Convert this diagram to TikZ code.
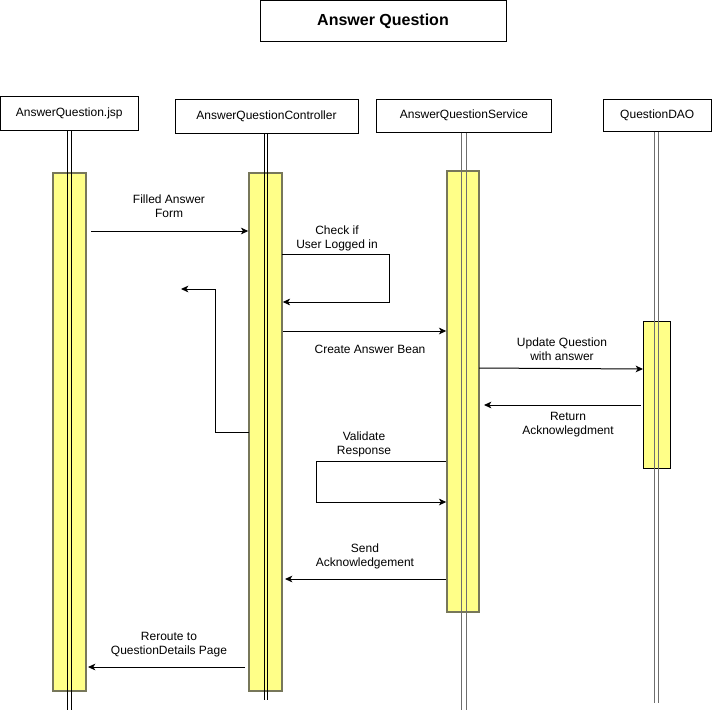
\documentclass[tikz,border=0pt]{standalone}
\usepackage{fontspec}
\setmainfont{Liberation Sans}
\usetikzlibrary{arrows.meta}
\definecolor{baryel}{HTML}{FFFF88}
\definecolor{barline}{HTML}{77775A}
\definecolor{lgray}{HTML}{6E6E6E}
\begin{document}
\begin{tikzpicture}[x=0.75pt,y=-0.75pt,
  txt/.style={font=\fontsize{9}{10.5}\selectfont, align=center, inner sep=0pt},
  head/.style={draw, line width=0.75pt, fill=white, inner sep=0pt, font=\fontsize{9}{10.5}\selectfont},
  titlebox/.style={draw, line width=0.75pt, fill=white, inner sep=0pt, font=\fontsize{12}{14}\selectfont\bfseries},
  bar/.style={draw=barline, fill=baryel, line width=1.1pt, inner sep=0pt},
  life/.style={line width=0.7pt},
  msg/.style={draw=black, line width=0.75pt, -{Stealth[length=5.5pt,width=5pt,inset=1.5pt]}}
]
\useasboundingbox (0,0) rectangle (712,710);
% title
\node[titlebox, minimum width=246*0.75pt, minimum height=41.5*0.75pt] (title) at (383,21.25) {\raisebox{-1pt}{Answer Question}};
% headers
\node[head, minimum width=137.5*0.75pt, minimum height=34*0.75pt] (jsp) at (69.25,113) {AnswerQuestion.jsp};
\node[head, minimum width=183*0.75pt, minimum height=34*0.75pt] (ctrl) at (266.5,116) {AnswerQuestionController};
\node[head, minimum width=175*0.75pt, minimum height=33*0.75pt] (svc) at (464,115.5) {AnswerQuestionService};
\node[head, minimum width=108.5*0.75pt, minimum height=32*0.75pt] (dao) at (657.25,115) {QuestionDAO};
% activation bars
\node[bar, minimum width=33*0.75pt, minimum height=518*0.75pt] (jspbar) at (69.5,432) {};
\node[bar, minimum width=33*0.75pt, minimum height=518*0.75pt] (ctrlbar) at (265.5,432) {};
\node[bar, minimum width=32*0.75pt, minimum height=441*0.75pt] (svcbar) at (463,391.5) {};
\node[bar, draw=black, line width=0.75pt, minimum width=27*0.75pt, minimum height=147*0.75pt] (daobar) at (656.5,394.5) {};
% lifelines (double)
\coordinate (jspend) at (69.5,710);
\coordinate (ctrlend) at (266,700);
\coordinate (svcend) at (464,710);
\coordinate (daoend) at (656.5,703);
\foreach \s in {-1.5,1.5}{
  \draw[life] ([xshift=\s*0.85pt]jsp.south -| jspend) -- ([xshift=\s*0.85pt]jspend);
  \draw[life] ([xshift=\s*0.85pt]ctrl.south -| ctrlend) -- ([xshift=\s*0.85pt]ctrlend);
  \draw[life, lgray] ([xshift=\s*1.35pt]svc.south -| svcend) -- ([xshift=\s*1.35pt]svcend);
  \draw[life, lgray] ([xshift=\s*0.9pt]dao.south -| daoend) -- ([xshift=\s*0.9pt]daoend);
}
% messages
\coordinate (m1) at (91,231);
\draw[msg] (m1) -- (m1 -| ctrlbar.west);
\node[txt] (l1) at (169,206) {Filled Answer\\Form};

\coordinate (m2) at (282,254);
\coordinate (m2b) at (389,302);
\draw[msg] (m2) -| (m2b) -- (m2b -| ctrlbar.east);
\node[txt] (l2) at (337,238) {Check if\\User Logged in};

\coordinate (m3) at (249,432);
\coordinate (m3b) at (215,289);
\coordinate (m3e) at (181,289);
\draw[msg] (m3) -| (m3b) -- (m3e);

\coordinate (m4) at (283,331);
\draw[msg] (m4) -- (m4 -| svcbar.west);
\node[txt] (l4) at (370,349) {Create Answer Bean};

\coordinate (m5) at (479,368);
\coordinate (m5e) at (643,369);
\draw[msg] (m5) -- (m5e);
\node[txt] (l5) at (562,349) {Update Question\\with answer};

\coordinate (m6) at (641,405);
\coordinate (m6e) at (484,405);
\draw[msg] (m6) -- (m6e);
\node[txt] (l6) at (568,425) {Return\\Acknowlegdment};

\coordinate (m7) at (446,461);
\coordinate (m7b) at (316,502);
\draw[msg] (m7) -| (m7b) -- (m7b -| svcbar.west);
\node[txt] (l7) at (364,444) {Validate\\Response};

\coordinate (m8) at (446,579);
\coordinate (m8e) at (285,579);
\draw[msg] (m8) -- (m8e);
\node[txt] (l8) at (365,556) {Send\\Acknowledgement};

\coordinate (m9) at (245,667);
\coordinate (m9e) at (88,667);
\draw[msg] (m9) -- (m9e);
\node[txt] (l9) at (169,645) {Reroute to\\QuestionDetails Page};
\end{tikzpicture}
\end{document}
